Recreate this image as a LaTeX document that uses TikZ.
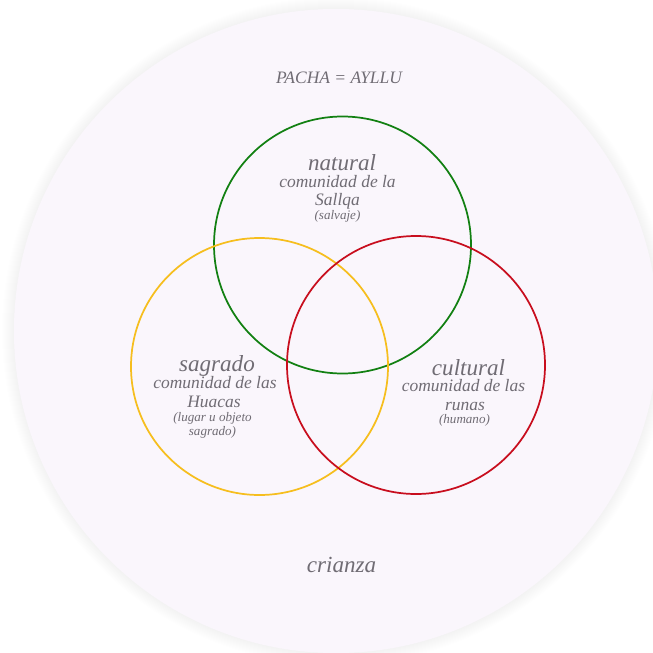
\documentclass[tikz,border=0pt]{standalone}
\usepackage{fontspec}
\setmainfont{Liberation Serif}
\usepackage{tikz}
\usetikzlibrary{positioning}
\definecolor{pachafill}{RGB}{250,246,252}
\definecolor{labelgray}{RGB}{112,108,116}
\definecolor{naturalgreen}{RGB}{18,128,18}
\definecolor{sagradoyellow}{RGB}{246,190,30}
\definecolor{culturalred}{RGB}{200,14,30}
\tikzset{ring/.style = {line width = 1.3pt}}
\tikzset{big/.style = {labelgray, anchor = base, inner sep = 0,
                       font = \itshape\fontsize{17.3}{18}\selectfont}}
\tikzset{mid/.style = {labelgray, anchor = base, inner sep = 0,
                       font = \itshape\fontsize{13.1}{14}\selectfont}}
\tikzset{small/.style = {labelgray, anchor = base, inner sep = 0,
                         font = \itshape\fontsize{9.8}{11}\selectfont}}

\begin{document}
\begin{tikzpicture}[x=0.75pt, y=-0.75pt]
      \useasboundingbox (0, 0) rectangle (653, 653);
      \foreach \r in {323, 324, ..., 334}
        \fill [black, opacity = 0.004] (336, 331) circle (\r);
      \fill [pachafill] (336, 331) circle (322);

      \draw [ring, naturalgreen] (342.5, 245) circle (128.5);
      \draw [ring, sagradoyellow] (259.5, 366.5) circle (128.5);
      \draw [ring, culturalred] (416, 365) circle (129);

      \node [mid] (pacha) at (339, 83) {PACHA = AYLLU};

      \node [big] (natural) at (342, 170) {natural};
      \node [mid] (natural1) at (337.5, 187) {comunidad de la};
      \node [mid] (natural2) at (337.5, 205) {Sallqa};
      \node [small] (natural3) at (337.5, 219) {(salvaje)};

      \node [big] (sagrado) at (217, 371) {sagrado};
      \node [mid] (sagrado1) at (215, 388) {comunidad de las};
      \node [mid] (sagrado2) at (214, 407) {Huacas};
      \node [small] (sagrado3) at (212.5, 421) {(lugar u objeto};
      \node [small] (sagrado4) at (212.5, 435.5) {sagrado)};

      \node [big] (cultural) at (468.5, 375) {cultural};
      \node [mid] (cultural1) at (463.5, 391.5) {comunidad de las};
      \node [mid] (cultural2) at (465, 410) {runas};
      \node [small] (cultural3) at (464.5, 423) {(humano)};

      \node [big] (crianza) at (341.5, 572) {crianza};
    \end{tikzpicture}
\end{document}
